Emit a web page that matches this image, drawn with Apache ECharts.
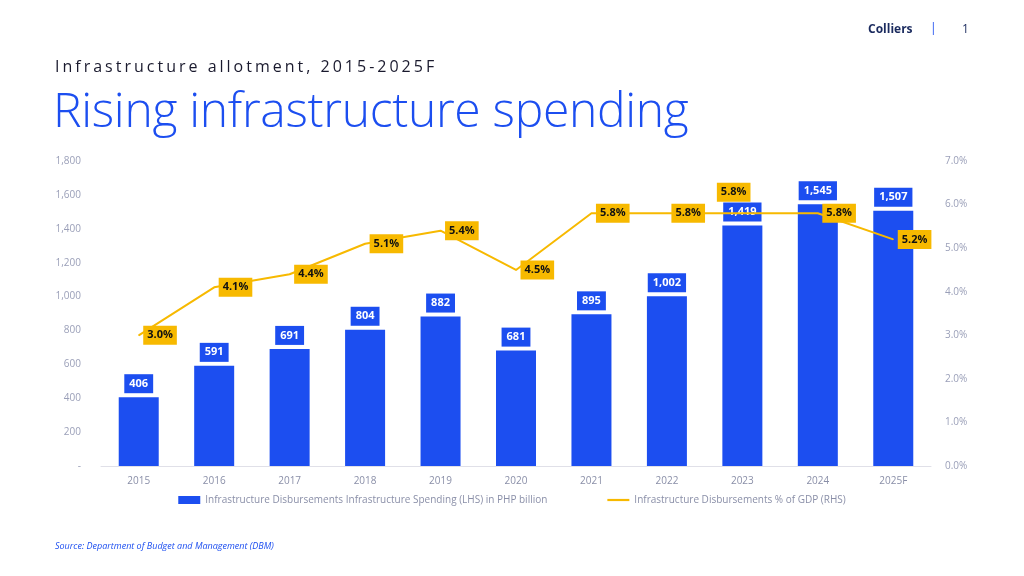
<!DOCTYPE html>
<html lang="en">
<head>
<meta charset="UTF-8">
<title>Rising infrastructure spending</title>
<script src="https://cdn.jsdelivr.net/npm/echarts@6/dist/echarts.min.js"></script>
<style>
  body { margin:0; background:#fff; font-family:"Open Sans", sans-serif; }
  #wrap { position:relative; width:1024px; height:576px; }
  #chart { position:absolute; left:0; top:0; width:1024px; height:576px; }
  .sub { position:absolute; left:55px; top:55px; font-size:16px; letter-spacing:3px; color:#1a1a2e; }
  .big { position:absolute; left:53px; top:76px; font-size:48px; font-weight:300; color:#1c4ef0; letter-spacing:-0.3px; }
  .brand { position:absolute; left:868px; top:20px; font-size:12px; font-weight:bold; color:#1a2a5e; }
  .bar { position:absolute; left:930px; top:19px; font-size:12px; color:#1c4ef0; }
  .pg { position:absolute; left:962px; top:20px; font-size:12px; color:#1a2a5e; }
  .src { position:absolute; left:55px; top:539px; font-size:9px; font-style:italic; color:#1c4ef0; }
</style>
</head>
<body>
<div id="wrap">
  <div id="chart"></div>
  <div class="brand">Colliers</div><div class="bar">|</div><div class="pg">1</div>
  <div class="sub">Infrastructure allotment, 2015-2025F</div>
  <div class="big">Rising infrastructure spending</div>
  <div class="src">Source: Department of Budget and Management (DBM)</div>
</div>
<script type="text/javascript">
var years = ['2015','2016','2017','2018','2019','2020','2021','2022','2023','2024','2025F'];
var spending = [406, 591, 691, 804, 882, 681, 895, 1002, 1419, 1545, 1507];
var gdpShare = [3.0, 4.1, 4.4, 5.1, 5.4, 4.5, 5.8, 5.8, 5.8, 5.8, 5.2];
var leftTicks = ['-', '200', '400', '600', '800', '1,000', '1,200', '1,400', '1,600', '1,800'];

var blue = '#1c4ef0', gold = '#f7b900';

var myChart = echarts.init(document.getElementById('chart'));
myChart.setOption({
    animation: false,
    textStyle: { fontFamily: 'Open Sans' },
    grid: { left: 101, right: 93, top: 161, bottom: 110 },
    legend: {
        bottom: 66, left: 'center', itemGap: 60,
        itemWidth: 22, itemHeight: 8,
        textStyle: { color: '#8a8fa8', fontSize: 10 },
        data: [
            { name: 'Infrastructure Disbursements Infrastructure Spending (LHS) in PHP billion', icon: 'rect' },
            { name: 'Infrastructure Disbursements % of GDP (RHS)', icon: 'path://M0,4L20,4L20,6L0,6Z' }
        ]
    },
    xAxis: {
        type: 'category', data: years,
        axisLine: { lineStyle: { color: '#e0e0e8' } },
        axisTick: { show: false },
        axisLabel: { color: '#8a8fa8', fontSize: 10, margin: 10 }
    },
    yAxis: [{
        type: 'value', min: 0, max: 1800, interval: 200,
        splitLine: { show: false },
        axisLabel: { color: '#9a9fb8', fontSize: 10, margin: 20,
            formatter: function (v) { return leftTicks[v / 200]; } }
    }, {
        type: 'value', min: 0, max: 7, interval: 1,
        splitLine: { show: false },
        axisLabel: { color: '#9a9fb8', fontSize: 10, margin: 14,
            formatter: function (v) { return v.toFixed(1) + '%'; } }
    }],
    series: [{
        name: 'Infrastructure Disbursements Infrastructure Spending (LHS) in PHP billion',
        type: 'bar', data: spending, barWidth: 40,
        itemStyle: { color: blue },
        label: {
            show: true, position: 'top', distance: 4,
            backgroundColor: blue, color: '#fff', fontWeight: 'bold', fontSize: 11,
            padding: [4, 5], borderColor: '#fff', borderWidth: 1,
            formatter: function (p) { return p.value.toLocaleString('en-US'); }
        }
    }, {
        name: 'Infrastructure Disbursements % of GDP (RHS)',
        type: 'line', yAxisIndex: 1, data: gdpShare,
        symbol: 'circle', symbolSize: 1, showSymbol: true,
        lineStyle: { color: gold, width: 2 },
        itemStyle: { color: gold },
        labelLayout: function (p) {
            if (p.dataIndex === 8) return { dx: -30, dy: -21, hideOverlap: false };
            return { hideOverlap: false };
        },
        label: {
            show: true, position: 'right', distance: 4,
            backgroundColor: gold, color: '#111', fontWeight: 'bold', fontSize: 11,
            padding: [4, 4],
            formatter: function (p) { return p.value.toFixed(1) + '%'; }
        }
    }]
});
</script>
</body>
</html>
